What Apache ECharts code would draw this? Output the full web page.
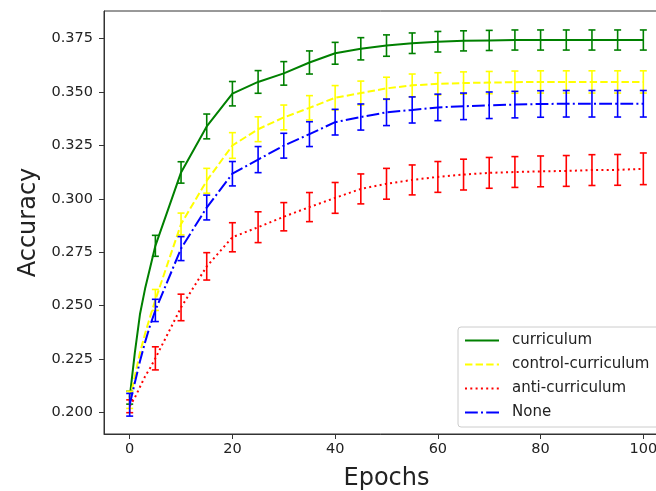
<!DOCTYPE html>
<html>
<head>
<meta charset="utf-8">
<script src="https://cdn.jsdelivr.net/npm/echarts@6/dist/echarts.min.js"></script>
<style>
html,body{margin:0;padding:0;background:#fff;}
#chart{width:656px;height:491px;}
</style>
</head>
<body>
<div id="chart"></div>
<script>
// ---- data ----
const epochs = [0,1,2,3,4,5,10,15,20,25,30,35,40,45,50,55,60,65,70,75,80,85,90,95,100];
const errEpochs = [0,5,10,15,20,25,30,35,40,45,50,55,60,65,70,75,80,85,90,95,100];

const curriculum = [0.207,0.228,0.246,0.258,0.268,0.278,0.3123,0.3338,0.3491,0.3546,0.3586,0.3637,0.3680,0.3701,0.3716,0.3727,0.3734,0.3738,0.3740,0.3742,0.3742,0.3742,0.3742,0.3742,0.3742];
const curriculumErr = [0.003,0.0049,0.005,0.0058,0.0057,0.0053,0.0055,0.0054,0.0051,0.0052,0.005,0.0048,0.0048,0.0047,0.0047,0.0047,0.0047,0.0047,0.0047,0.0047,0.0047];

const controlCurriculum = [0.206,0.217,0.228,0.237,0.245,0.2527,0.2882,0.3084,0.3249,0.3325,0.3380,0.3425,0.3472,0.3494,0.3516,0.3530,0.3537,0.3541,0.3543,0.3545,0.3546,0.3546,0.3546,0.3546,0.3546];
const controlCurriculumErr = [0.004,0.0049,0.0051,0.0058,0.006,0.0058,0.0058,0.0057,0.0057,0.0056,0.0052,0.0053,0.0052,0.0052,0.0052,0.0052,0.0052,0.0052,0.0052,0.0052,0.0052];

const antiCurriculum = [0.203,0.207,0.212,0.217,0.221,0.2254,0.2492,0.2684,0.2820,0.2867,0.2916,0.2961,0.3004,0.3046,0.3070,0.3088,0.3102,0.3113,0.3121,0.3125,0.3128,0.3130,0.3134,0.3135,0.3140];
const antiCurriculumErr = [0.003,0.0054,0.0062,0.0064,0.0068,0.0072,0.0066,0.0068,0.0072,0.007,0.0072,0.007,0.0072,0.0072,0.0072,0.0072,0.0072,0.0072,0.0072,0.0072,0.0074];

const none = [0.2037,0.214,0.224,0.233,0.241,0.2478,0.2767,0.2959,0.3117,0.3183,0.3248,0.3302,0.3358,0.3382,0.3404,0.3415,0.3427,0.3432,0.3437,0.3440,0.3443,0.3444,0.3444,0.3444,0.3444];
const noneErr = [0.0053,0.0052,0.0056,0.0058,0.0057,0.0061,0.0058,0.0058,0.006,0.0061,0.0062,0.0061,0.0062,0.0062,0.0062,0.0062,0.0062,0.0062,0.0062,0.0062,0.0062];

const xTicks = [0,20,40,60,80,100];
const yTicks = [0.2,0.225,0.25,0.275,0.3,0.325,0.35,0.375];

const seriesDefs = [
  {name:'curriculum', values:curriculum, err:curriculumErr, color:'#008000', type:'solid'},
  {name:'control-curriculum', values:controlCurriculum, err:controlCurriculumErr, color:'#ffff00', type:[7.4,3.2]},
  {name:'anti-curriculum', values:antiCurriculum, err:antiCurriculumErr, color:'#ff0000', type:[2,3.3]},
  {name:'None', values:none, err:noneErr, color:'#0000ff', type:[12.8,3.2,2,3.2]}
];

const FONT = 'DejaVu Sans';
const series = [];
seriesDefs.forEach((d, i) => {
  series.push({
    name: d.name,
    type: 'line',
    data: epochs.map((e, k) => [e, d.values[k]]),
    showSymbol: false,
    symbol: 'none',
    legendIcon: 'path://M0,0 L1,0',
    smooth: false,
    z: 2 + i,
    lineStyle: {color: d.color, width: 2, type: d.type},
    itemStyle: {color: d.color},
    animation: false
  });
  const errData = errEpochs.map((e, k) => [e, d.values[epochs.indexOf(e)], d.err[k]]);
  series.push({
    name: d.name + ' err',
    type: 'custom',
    z: 2 + i,
    data: errData,
    encode: {x: 0, y: 1},
    animation: false,
    renderItem: function (params, api) {
      const x = api.value(0), y = api.value(1), e = api.value(2);
      const t = api.coord([x, y + e]);
      const b = api.coord([x, y - e]);
      const w = 3.5;
      const st = {stroke: d.color, lineWidth: 1.6};
      return {
        type: 'group',
        children: [
          {type: 'line', shape: {x1: t[0], y1: t[1], x2: b[0], y2: b[1]}, style: st},
          {type: 'line', shape: {x1: t[0] - w, y1: t[1], x2: t[0] + w, y2: t[1]}, style: st},
          {type: 'line', shape: {x1: b[0] - w, y1: b[1], x2: b[0] + w, y2: b[1]}, style: st}
        ]
      };
    }
  });
});

const chart = echarts.init(document.getElementById('chart'), null, {renderer: 'canvas'});
chart.setOption({
  animation: false,
  backgroundColor: '#fff',
  grid: {left: 104, top: 11, width: 565, height: 423, show: true, borderColor: '#333', borderWidth: 1,
    backgroundColor: 'transparent', containLabel: false, outerBoundsMode: 'none'},
  xAxis: {
    type: 'value', min: -5, max: 105,
    name: 'Epochs', nameLocation: 'middle', nameGap: 33,
    nameTextStyle: {fontFamily: FONT, fontSize: 24, color: '#222'},
    axisLine: {show: true, onZero: false, lineStyle: {color: '#333', width: 1}},
    axisTick: {show: true, length: 5, customValues: xTicks, lineStyle: {color: '#333'}},
    axisLabel: {customValues: xTicks, margin: 8, fontFamily: FONT, fontSize: 14.5, color: '#222'},
    splitLine: {show: false}
  },
  yAxis: {
    type: 'value', min: 0.19004, max: 0.38776,
    name: 'Accuracy', nameLocation: 'middle', nameGap: 56,
    nameTextStyle: {fontFamily: FONT, fontSize: 24, color: '#222'},
    axisLine: {show: true, onZero: false, lineStyle: {color: '#333', width: 1}},
    axisTick: {show: true, length: 5, customValues: yTicks, lineStyle: {color: '#333'}},
    axisLabel: {customValues: yTicks, margin: 11, fontFamily: FONT, fontSize: 14.5, color: '#222',
      formatter: v => Number(v).toFixed(3)},
    splitLine: {show: false}
  },
  legend: {
    data: seriesDefs.map(d => ({name: d.name})),
    orient: 'vertical',
    left: 458, top: 327,
    itemWidth: 34, itemHeight: 14,
    itemGap: 7,
    padding: [5, 12, 6, 6],
    backgroundColor: 'rgba(255,255,255,0.8)',
    borderColor: '#cccccc', borderWidth: 1, borderRadius: 3,
    itemStyle: {opacity: 0},
    textStyle: {fontFamily: FONT, fontSize: 15, color: '#222', lineHeight: 17, padding: [0, 0, 0, 8]},
    selectedMode: false
  },
  series: series
});
</script>
</body>
</html>
